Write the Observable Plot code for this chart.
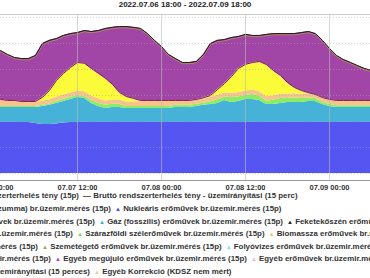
<!DOCTYPE html>
<html><head><meta charset="utf-8">
<script src="https://cdn.jsdelivr.net/npm/d3@7"></script>
<script src="https://cdn.jsdelivr.net/npm/@observablehq/plot@0.6"></script>
<style>
html,body{margin:0;padding:0;background:#fff;}
body{position:relative;width:370px;height:278px;overflow:hidden;font-family:"Liberation Sans",Arial,sans-serif;}
#title{position:absolute;left:0;top:0;width:370px;text-align:center;font-weight:bold;font-size:8px;line-height:10px;color:#222;}
#chart{position:absolute;left:0;top:0;}
.lg{position:absolute;white-space:nowrap;font-weight:bold;font-size:7.9px;line-height:10px;color:#333;}
.mk{font-size:6px;}
</style></head><body>
<div id="chart"></div>
<div id="title"></div>
<div id="legend"></div>
<script>
// ---- data (MW, hourly from 2022-07-07 00:00) ----
const titleText = "2022.07.06 18:00 - 2022.07.09 18:00";
const nuclear = [1960,1960,1960,1960,1960,1960,1920,1880,1880,1900,1940,1960,1960,1960,1960,1960,1960,1960,1960,1960,1960,1960,1960,1960,1960,1960,1960,1960,1960,1960,1960,1960,1960,1960,1960,1960,1960,1960,1960,1960,1960,1960,1960,1960,1960,1960,1960,1960,1960,1960,1960,1960,1960,1960,1960];
const gas = [580,580,580,580,580,580,620,700,740,790,830,890,960,930,730,620,540,580,580,540,540,540,540,540,540,540,580,580,580,620,660,690,730,850,770,810,890,890,850,690,690,730,770,770,770,810,810,690,620,580,580,580,580,580,580];
const wind = [40,40,40,40,40,40,40,40,40,80,80,80,80,80,120,120,120,120,120,80,80,80,80,80,80,80,80,80,80,80,80,100,150,120,190,170,150,190,170,130,170,190,150,170,150,130,110,90,80,70,70,70,70,70,70];
const biomass = [230,230,190,190,150,150,150,170,170,170,170,170,170,170,170,170,170,170,170,170,170,190,190,190,190,190,150,150,150,150,150,170,170,170,170,170,170,170,170,170,170,170,170,170,170,170,120,140,150,160,160,160,160,160,160];
const solar = [0,0,0,0,0,0,0,100,330,600,790,940,1060,1060,1020,940,830,560,250,170,100,0,0,0,0,0,0,0,0,0,20,40,180,320,600,890,990,1020,1120,1200,930,680,410,200,100,0,0,0,0,0,0,0,0,0,0];
const other = [40,40,40,40,40,40,40,40,40,40,40,40,40,40,40,40,40,40,40,40,40,40,40,40,40,40,40,40,40,40,40,40,40,40,40,40,40,40,40,40,40,40,40,40,40,40,40,40,40,40,40,40,40,40,40];
const importMW = [2000,1880,1770,1650,1650,1650,1770,2070,1920,1610,1460,1300,1150,1260,1420,1650,1920,2190,2530,2690,2730,2770,2570,2310,2070,1770,1610,1460,1460,1460,1670,2000,1890,1690,1500,1230,1150,1040,1000,1160,1420,1610,1880,2070,2230,2350,2340,2200,1960,1730,1570,1460,1340,1230,1150];
const load = [4850,4730,4580,4460,4420,4420,4540,5000,5120,5190,5310,5380,5420,5500,5460,5500,5580,5620,5650,5650,5620,5580,5380,5120,4880,4580,4420,4270,4270,4310,4580,5000,5120,5150,5230,5270,5350,5310,5310,5350,5380,5380,5380,5380,5420,5460,5380,5120,4810,4540,4380,4270,4150,4040,3960];
const seriesOrder = ["nuclear","gas","wind","biomass","solar","other","import"];
const xTickDates = [[2022,6,7,0],[2022,6,7,12],[2022,6,8,0],[2022,6,8,12],[2022,6,9,0]];
const xDomainDates = [[2022,6,6,18],[2022,6,9,18]];
const yGrid = [0,1000,2000,3000,4000,5000,6000];
const yDomain = [-270,6115];
const legendLabels = [
 "Nettó rendszerterhelés tény (15p)",
 "Bruttó rendszerterhelés tény - üzemirányítási (15 perc)",
 "Import szaldó (országhatári szumma) br.üzemir.mérés (15p)",
 "Nukleáris erőművek br.üzemir.mérés (15p)",
 "Barnakőszén erőművek br.üzemir.mérés (15p)",
 "Gáz (fosszilis) erőművek br.üzemir.mérés (15p)",
 "Feketekőszén erőművek br.üzemir.mérés (15p)",
 "Naperőművek br.üzemir.mérés (15p)",
 "Szárazföldi szélerőművek br.üzemir.mérés (15p)",
 "Biomassza erőművek br.üzemir.mérés (15p)",
 "Geotermikus erőművek br.üzemir.mérés (15p)",
 "Szemétégető erőművek br.üzemir.mérés (15p)",
 "Folyóvizes erőművek br.üzemir.mérés (15p)",
 "Biogáz erőművek br.üzemir.mérés (15p)",
 "Egyéb megújuló erőművek br.üzemir.mérés (15p)",
 "Egyéb erőművek br.üzemir.mérés (15p)",
 "Nettó terv rendszerterhelés - üzemirányítási (15 perces)",
 "Egyéb Korrekció (KDSZ nem mért)"
];

// ---- styles ----
const seriesColors = ["#5555f2","#46b2d8","#8aee62","#f6c38c","#fbfb3a","#f2a2c2","#a145a7"];
const legendMarks = [
 ["—","#333"],["—","#333"],["▲","#a145a7"],["▲","#4848e8"],["▲","#9a7a4a"],["▲","#3fb0d8"],["▲","#222"],
 ["▲","#e8e020"],["▲","#7ee060"],["▲","#f4be84"],["▲","#d08040"],["▲","#88b050"],["▲","#80e4ea"],
 ["▲","#60a060"],["▲","#b040c0"],["▲","#e8b8e8"],["—","#333"],["▲","#f0d080"]
];
// [centerY, endX of first (cut) item, [label indices in row]]
const legendLayout = [
 [196, 79, [0,1]],
 [209, 111, [2,3]],
 [221.5, 95, [4,5,6]],
 [234, 73, [7,8,9]],
 [246.5, 38, [10,11,12]],
 [259, 51, [13,14,15]],
 [271.5, 90, [16,17]]
];
const legendGap = 4;

const timeAt = i => new Date(2022, 6, 7, i);
const toDate = a => new Date(a[0], a[1], a[2], a[3]);
const values = {nuclear, gas, wind, biomass, solar, other, import: importMW};
const rows = seriesOrder.flatMap(s => values[s].map((v, i) => ({t: timeAt(i), series: s, value: v})));
const lower = seriesOrder.slice(0, 6);
const edge = load.map((_, i) => ({t: timeAt(i), v: d3.sum(lower, s => values[s][i])}));
const loadRows = load.map((v, i) => ({t: timeAt(i), v}));
const xTicks = xTickDates.map(toDate);

const chart = Plot.plot({
  width: 370, height: 192,
  marginTop: 14, marginBottom: 12, marginLeft: 0, marginRight: 0,
  style: {fontFamily: "Liberation Sans, Arial, sans-serif", fontSize: "7.5px", fontWeight: "bold", color: "#333", background: "transparent"},
  x: {type: "time", domain: xDomainDates.map(toDate), range: [-49, 455], ticks: xTicks,
      tickFormat: d3.timeFormat("%m.%d %H:%M"), tickSize: 0, tickPadding: 4, label: null},
  y: {domain: yDomain, axis: null},
  color: {domain: seriesOrder, range: seriesColors},
  marks: [
    Plot.areaY(rows, {x: "t", y: "value", z: "series", fill: "series", order: seriesOrder, clip: true}),
    Plot.lineY(edge, {x: "t", y: "v", stroke: "#7b2040", strokeWidth: 1, clip: true}),
    Plot.lineY(loadRows, {x: "t", y: "v", stroke: "#b58a5a", strokeWidth: 1, dy: 1.2, clip: true}),
    Plot.lineY(loadRows, {x: "t", y: "v", stroke: "#1a1a1a", strokeWidth: 1, clip: true}),
    Plot.ruleX(xTicks, {stroke: "#bbb", strokeOpacity: 0.6}),
    Plot.ruleY(yGrid, {stroke: "#aaa", strokeOpacity: 0.5, strokeDasharray: "1,2"}),
    Plot.ruleY([yDomain[1]], {stroke: "#ccc"}),
    Plot.ruleY([yDomain[0]], {stroke: "#999"})
  ]
});
document.getElementById("chart").appendChild(chart);
document.getElementById("title").textContent = titleText;

const lg = document.getElementById("legend");
function makeItem(idx, cy) {
  const el = document.createElement("div");
  el.className = "lg";
  const mk = document.createElement("span");
  mk.className = "mk";
  mk.style.color = legendMarks[idx][1];
  mk.textContent = legendMarks[idx][0];
  if (legendMarks[idx][0] === "—") mk.style.fontSize = "8px";
  el.appendChild(mk);
  el.appendChild(document.createTextNode(" " + legendLabels[idx]));
  el.style.top = (cy - 5) + "px";
  lg.appendChild(el);
  return el;
}
for (const [cy, endX, idxs] of legendLayout) {
  let x = endX;
  idxs.forEach((idx, k) => {
    const el = makeItem(idx, cy);
    const w = el.getBoundingClientRect().width;
    if (k === 0) { el.style.left = (endX - w) + "px"; x = endX + legendGap; }
    else { el.style.left = x + "px"; x += w + legendGap; }
  });
}
</script></body></html>
